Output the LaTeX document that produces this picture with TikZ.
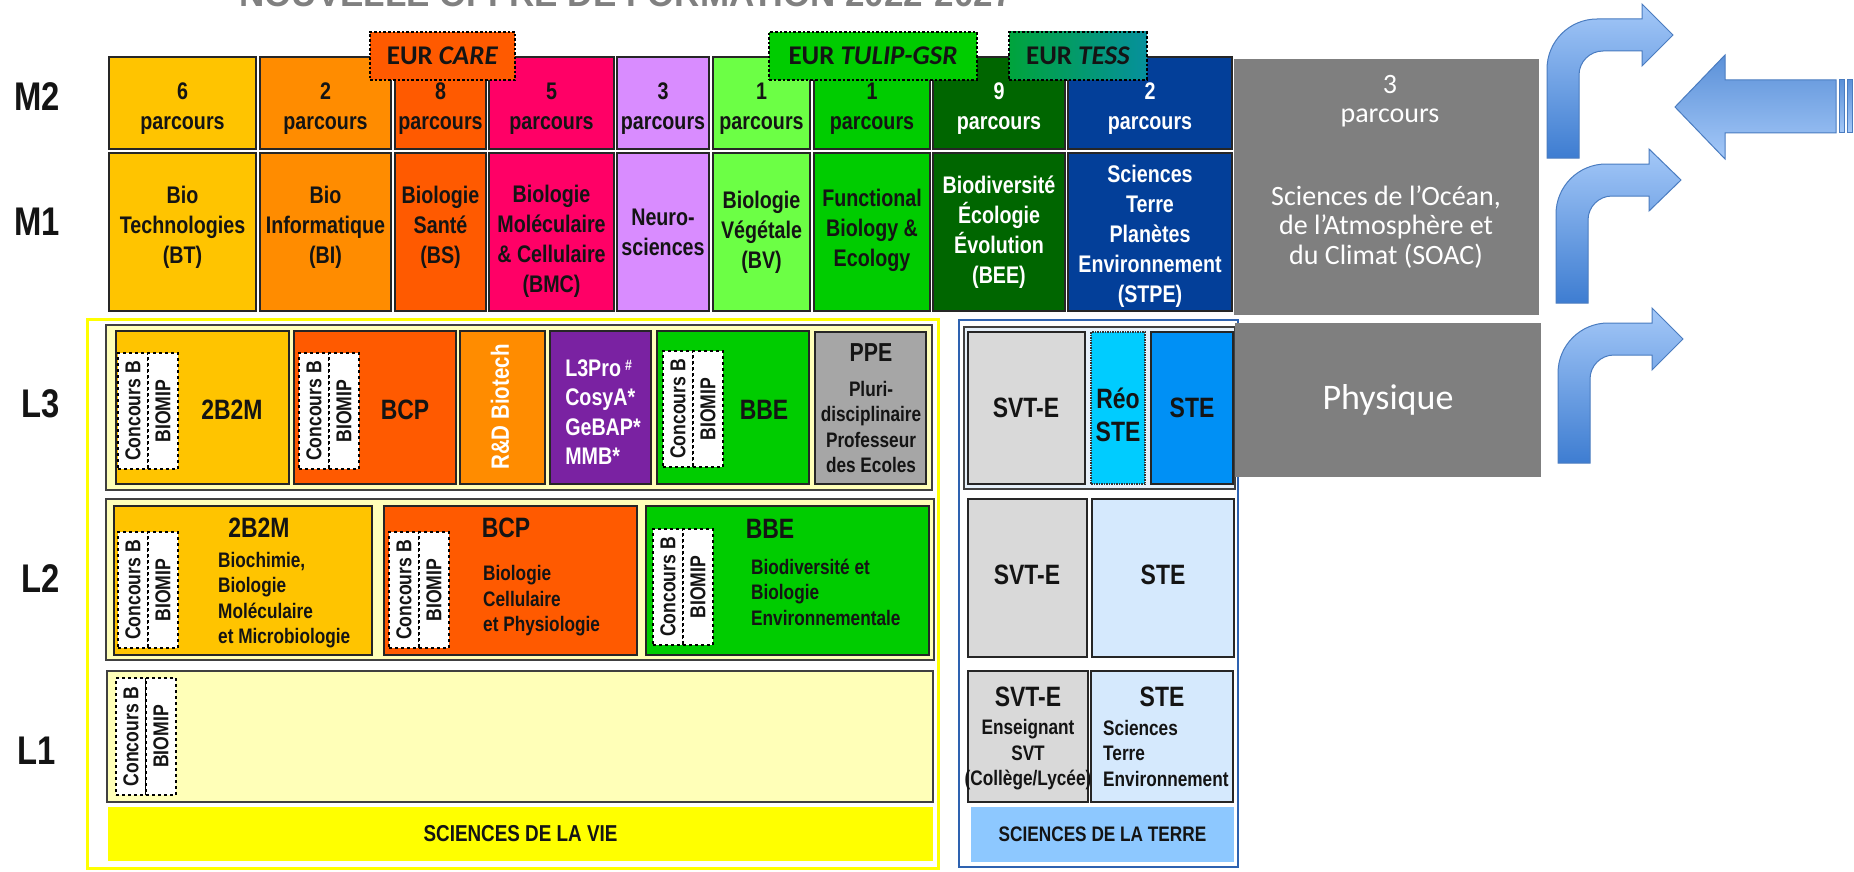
\documentclass[tikz,border=0pt]{standalone}
\usepackage{fontspec}
\newfontfamily\nb[FakeStretch=0.82]{Liberation Sans}
\newfontfamily\nbw{Liberation Sans}
\newfontfamily\carl{Carlito}
\definecolor{cBT}{HTML}{FFC400}
\definecolor{cBI}{HTML}{FF8C00}
\definecolor{cBS}{HTML}{FF5A00}
\definecolor{cBMC}{HTML}{FF0066}
\definecolor{cNeu}{HTML}{D98CFF}
\definecolor{cBV}{HTML}{6CFF45}
\definecolor{cFBE}{HTML}{00CC00}
\definecolor{cBEE}{HTML}{006600}
\definecolor{cSTPE}{HTML}{033F99}
\definecolor{cTessA}{HTML}{00A43C}
\definecolor{cTessB}{HTML}{06909C}
\definecolor{cCream}{HTML}{FFFFB8}
\definecolor{cPro}{HTML}{7A22A2}
\definecolor{cPPE}{HTML}{A6A6A6}
\definecolor{cSVT}{HTML}{D9D9D9}
\definecolor{cReo}{HTML}{00CCFF}
\definecolor{cSTEd}{HTML}{0090F5}
\definecolor{cSTEl}{HTML}{D5E9FD}
\definecolor{cYel}{HTML}{FFFF00}
\definecolor{cSdt}{HTML}{8DC8FF}
\definecolor{cFrame}{HTML}{2E62B0}
\definecolor{cTgrp}{HTML}{E6F0FA}
\definecolor{cGrey}{HTML}{7F7F7F}
\definecolor{cTitle}{HTML}{808080}
\definecolor{cArL}{HTML}{A4C8F8}
\definecolor{cArD}{HTML}{3E7DD1}
\definecolor{cArEdge}{HTML}{4A7CC0}
\definecolor{cTxt}{HTML}{141414}
\newcommand{\fM}{\nb\bfseries\fontsize{24}{30}\selectfont}
\newcommand{\fRow}{\nb\bfseries\fontsize{40}{44}\selectfont}
\newcommand{\fBig}{\nb\bfseries\fontsize{28}{33}\selectfont}
\newcommand{\fSm}{\nb\bfseries\fontsize{21}{25.5}\selectfont}
\newcommand{\fTag}{\nb\bfseries\fontsize{21.5}{24}\selectfont}
\newcommand{\fE}{\carl\bfseries\fontsize{27}{30}\selectfont}
\newcommand{\fSoac}{\carl\fontsize{28}{29.5}\selectfont}
% name, x1, y1, x2, y2, style, text
\newcommand{\mybox}[7]{%
  \node[#6, minimum width={(#4)-(#2)}, minimum height={(#5)-(#3)}] (#1) at ({((#2)+(#4))/2},{((#3)+(#5))/2}) {#7};}
% master box with its text placed separately: name, x1, y1, x2, y2, fill/text style, vertical shift, text
\newcommand{\mcell}[8]{%
  \mybox{#1}{#2}{#3}{#4}{#5}{mbox,#6}{}%
  \node[text=cTxt,#6,mtxt,yshift=#7pt] (#1t) at (#1.center) {#8};}
% prefix, x, y1, y2
\newcommand{\tagpair}[4]{%
  \mybox{#1cb}{#2}{#3}{#2+30}{#4}{tagbox}{}%
  \node[tagtxt] (#1cbt) at (#1cb.center) {Concours B};%
  \mybox{#1bi}{#2+30}{#3}{#2+60}{#4}{tagbox}{}%
  \node[tagtxt] (#1bit) at (#1bi.center) {BIOMIP};}
\begin{document}
\begin{tikzpicture}[x=1pt,y=-1pt,
  mbox/.style={draw=black!85, line width=1.6pt, inner sep=0pt},
  mtxt/.style={draw=none, fill=none, inner sep=0pt, align=center, font=\fM},
  eur/.style={draw=black, line width=2.6pt, dash pattern=on 2.6pt off 2pt, inner sep=0pt, font=\fE, text=cTxt},
  grp/.style={draw=black!75, line width=2pt, inner sep=0pt},
  lbox/.style={draw=black!85, line width=1.5pt, inner sep=0pt},
  tagbox/.style={draw=black, dashed, line width=1.2pt, fill=white, inner sep=0pt},
  tagtxt/.style={rotate=90, font=\fTag, inner sep=0pt, text=cTxt},
  big/.style={font=\fBig, inner sep=0pt, text=cTxt, align=center},
  small/.style={font=\fSm, inner sep=0pt, text=cTxt},
  rowlab/.style={font=\fRow, inner sep=0pt, text=cTxt},
  greybox/.style={fill=cGrey, inner sep=0pt},
  soactxt/.style={font=\fSoac, text=white, align=center, inner sep=0pt},
  bentarrow/.style={top color=cArL, bottom color=cArD, draw=cArEdge, line width=1pt},
  leftarrow/.style={top color=cArD!85, bottom color=cArL, draw=cArEdge, line width=1pt}]
\useasboundingbox (0,0) rectangle (1854,872);
\fill[white] (0,0) rectangle (1854,872);

% title (cut at the top edge)
\node[font=\nbw\bfseries\fontsize{35}{35}\selectfont, text=cTitle, anchor=base, inner sep=0pt] (title) at (626,7) {NOUVELLE OFFRE DE FORMATION 2022-2027};

% row labels
\node[rowlab] (lm2) at (37,97) {M2};
\node[rowlab] (lm1) at (37,222) {M1};
\node[rowlab] (ll3) at (41,404) {L3};
\node[rowlab] (ll2) at (41,579) {L2};
\node[rowlab] (ll1) at (37,751) {L1};

% Master columns
\mcell{m2a}{109}{57}{256}{149}{fill=cBT}{-6}{6\\parcours}
\mcell{m1a}{109}{153}{256}{311}{fill=cBT}{4.5}{Bio\\Technologies\\(BT)}
\mcell{m2b}{260}{57}{391}{149}{fill=cBI}{-6}{2\\parcours}
\mcell{m1b}{260}{153}{391}{311}{fill=cBI}{4.5}{Bio\\Informatique\\(BI)}
\mcell{m2c}{395}{57}{486}{149}{fill=cBS}{-6}{8\\parcours}
\mcell{m1c}{395}{153}{486}{311}{fill=cBS}{4.5}{Biologie\\Santé\\(BS)}
\mcell{m2d}{489}{57}{614}{149}{fill=cBMC}{-6}{5\\parcours}
\mcell{m1d}{489}{153}{614}{311}{fill=cBMC}{-9}{Biologie\\Moléculaire\\\& Cellulaire\\(BMC)}
\mcell{m2e}{617}{57}{709}{149}{fill=cNeu}{-6}{3\\parcours}
\mcell{m1e}{617}{153}{709}{311}{fill=cNeu}{0}{Neuro-\\sciences}
\mcell{m2f}{713}{57}{810}{149}{fill=cBV}{-6}{1\\parcours}
\mcell{m1f}{713}{153}{810}{311}{fill=cBV}{0}{Biologie\\Végétale\\(BV)}
\mcell{m2g}{814}{57}{930}{149}{fill=cFBE}{-6}{1\\parcours}
\mcell{m1g}{814}{153}{930}{311}{fill=cFBE}{1.5}{Functional\\Biology \&\\Ecology}
\mcell{m2h}{933}{57}{1065}{149}{fill=cBEE,text=white}{-6}{9\\parcours}
\mcell{m1h}{933}{153}{1065}{311}{fill=cBEE,text=white}{0}{Biodiversité\\Écologie\\Évolution\\(BEE)}
\mcell{m2i}{1068}{57}{1232}{149}{fill=cSTPE,text=white}{-6}{2\\parcours}
\mcell{m1i}{1068}{153}{1232}{311}{fill=cSTPE,text=white}{-4}{Sciences\\Terre\\Planètes\\Environnement\\(STPE)}

% EUR labels
\mybox{eur1}{370}{32}{515}{80}{eur,fill=cBS}{EUR \textit{CARE}}
\mybox{eur2}{769}{32}{977}{80}{eur,fill=cFBE}{EUR \textit{TULIP-GSR}}
\mybox{eur3}{1009}{32}{1147}{80}{eur,left color=cTessA,right color=cTessB}{EUR \textit{TESS}}

% Sciences de la Vie
\mybox{sdv}{87}{319}{938}{868}{draw=cYel, line width=3pt, inner sep=0pt}{}
\mybox{g3}{106}{325}{932}{490}{grp,fill=cCream}{}
\mybox{g2}{106}{499}{934}{660}{grp,fill=cCream}{}
\mybox{g1}{107}{671}{933}{802}{grp,fill=cCream}{}
\mybox{sdvbar}{108}{807}{933}{861}{fill=cYel, inner sep=0pt, font=\nb\bfseries\fontsize{23}{26}\selectfont, text=cTxt}{SCIENCES DE LA VIE}

% L3 (SdV)
\mybox{l3a}{116}{331}{289}{484}{lbox,fill=cBT}{}
\mybox{l3b}{294}{331}{456}{484}{lbox,fill=cBS}{}
\mybox{l3c}{460}{331}{545}{484}{lbox,fill=cBI}{}
\mybox{l3d}{550}{331}{651}{484}{lbox,fill=cPro}{}
\mybox{l3e}{657}{331}{809}{484}{lbox,fill=cFBE}{}
\mybox{l3f}{815}{332}{926}{484}{lbox,fill=cPPE}{}
\tagpair{l3a}{118}{353}{469}
\tagpair{l3b}{299}{353}{469}
\tagpair{l3e}{663}{351}{467}
\node[big] (t3a) at (232,410) {2B2M};
\node[big] (t3b) at (405,410) {BCP};
\node[rotate=90, font=\nb\bfseries\fontsize{25}{28}\selectfont, text=white, inner sep=0pt] (t3c) at (500,407) {R\&D Biotech};
\node[font=\nb\bfseries\fontsize{24}{29.5}\selectfont, text=white, align=left, inner sep=0pt] (t3d) at (603,412) {L3Pro\,\raisebox{0.45ex}{\fontsize{15}{15}\selectfont\#}\\CosyA*\\GeBAP*\\MMB*};
\node[big] (t3e) at (764,410) {BBE};
\node[font=\nb\bfseries\fontsize{26}{28}\selectfont, text=cTxt, inner sep=0pt] (t3f) at (871,353) {PPE};
\node[small, align=center] (t3g) at (871,427) {Pluri-\\disciplinaire\\Professeur\\des Ecoles};

% L2 (SdV)
\mybox{l2a}{114}{506}{372}{655}{lbox,fill=cBT}{}
\mybox{l2b}{384}{506}{637}{655}{lbox,fill=cBS}{}
\mybox{l2c}{646}{506}{929}{655}{lbox,fill=cFBE}{}
\tagpair{l2a}{118}{532}{648}
\tagpair{l2b}{389}{532}{648}
\tagpair{l2c}{653}{529}{645}
\node[big] (t2a) at (259,528) {2B2M};
\node[small, align=left, anchor=west] (t2ad) at (218,600) {Biochimie,\\Biologie\\Moléculaire\\et Microbiologie};
\node[big] (t2b) at (506,528) {BCP};
\node[small, align=left, anchor=west] (t2bd) at (483,601) {Biologie\\Cellulaire\\et Physiologie};
\node[big] (t2c) at (770,529) {BBE};
\node[small, align=left, anchor=west] (t2cd) at (751,592) {Biodiversité et\\Biologie\\Environnementale};

% L1 (SdV)
\tagpair{l1a}{116}{678}{795}

% Sciences de la Terre
\mybox{sdt}{959}{320}{1238}{867}{draw=cFrame, line width=2pt, inner sep=0pt}{}
\mybox{tg3}{964}{327}{1235}{489}{grp,fill=cTgrp}{}
\mybox{s3a}{968}{332}{1085}{484}{lbox,fill=cSVT}{}
\mybox{s3b}{1091}{332}{1145}{484}{draw=black!80, densely dotted, line width=1.5pt, fill=cReo, inner sep=0pt}{}
\mybox{s3c}{1151}{332}{1233}{484}{lbox,fill=cSTEd}{}
\node[big] (ts3a) at (1026,408) {SVT-E};
\node[big] (ts3b) at (1118,415) {Réo\\STE};
\node[big] (ts3c) at (1192,408) {STE};
\mybox{s2a}{968}{499}{1087}{657}{lbox,fill=cSVT}{}
\mybox{s2b}{1092}{499}{1234}{657}{lbox,fill=cSTEl}{}
\node[big] (ts2a) at (1027,575) {SVT-E};
\node[big] (ts2b) at (1163,575) {STE};
\mybox{s1a}{968}{671}{1088}{802}{lbox,fill=cSVT}{}
\mybox{s1b}{1091}{671}{1233}{802}{lbox,fill=cSTEl}{}
\node[big] (ts1a) at (1028,697) {SVT-E};
\node[small, align=center] (ts1ad) at (1028,755) {Enseignant\\SVT\\(Collège/Lycée)};
\node[big] (ts1b) at (1162,697) {STE};
\node[small, align=left, anchor=west] (ts1bd) at (1103,753) {Sciences\\Terre\\Environnement};
\mybox{sdtbar}{971}{807}{1234}{862}{fill=cSdt, inner sep=0pt, font=\nb\bfseries\fontsize{21}{24}\selectfont, text=cTxt}{SCIENCES DE LA TERRE}

% grey boxes
\mybox{soac}{1234}{59}{1539}{315}{greybox}{}
\node[soactxt] (soac1) at (1390,101) {3\\parcours};
\node[soactxt] (soac2) at (1386,227) {Sciences de l’Océan,\\de l’Atmosphère et\\du Climat (SOAC)};
\mybox{phys}{1235}{323}{1541}{477}{greybox, font=\carl\fontsize{36}{40}\selectfont, text=white}{Physique}

% block arrows
\path[bentarrow] (1547,158) -- (1547,69) .. controls (1547,41.4) and (1569.4,19) .. (1597,19) -- (1642,19) -- (1642,4) -- (1673,35) -- (1642,66) -- (1642,51) -- (1603,51) .. controls (1589.8,51) and (1579,61.8) .. (1579,75) -- (1579,158) -- cycle;
\path[bentarrow] (1556,303) -- (1556,214) .. controls (1556,186.4) and (1578.4,164) .. (1606,164) -- (1649,164) -- (1649,149) -- (1681,180) -- (1649,211) -- (1649,196) -- (1612,196) .. controls (1598.8,196) and (1588,206.8) .. (1588,220) -- (1588,303) -- cycle;
\path[bentarrow] (1558,463) -- (1558,373) .. controls (1558,345.4) and (1580.4,323) .. (1608,323) -- (1652,323) -- (1652,308) -- (1683,339) -- (1652,370) -- (1652,355) -- (1614,355) .. controls (1600.8,355) and (1590,365.8) .. (1590,379) -- (1590,463) -- cycle;
\path[leftarrow] (1675,107) -- (1725,55) -- (1725,80) -- (1836,80) -- (1836,133) -- (1725,133) -- (1725,159) -- cycle;
\path[leftarrow] (1839,80) rectangle (1844,133);
\path[leftarrow] (1847,80) rectangle (1852,133);
\end{tikzpicture}
\end{document}
